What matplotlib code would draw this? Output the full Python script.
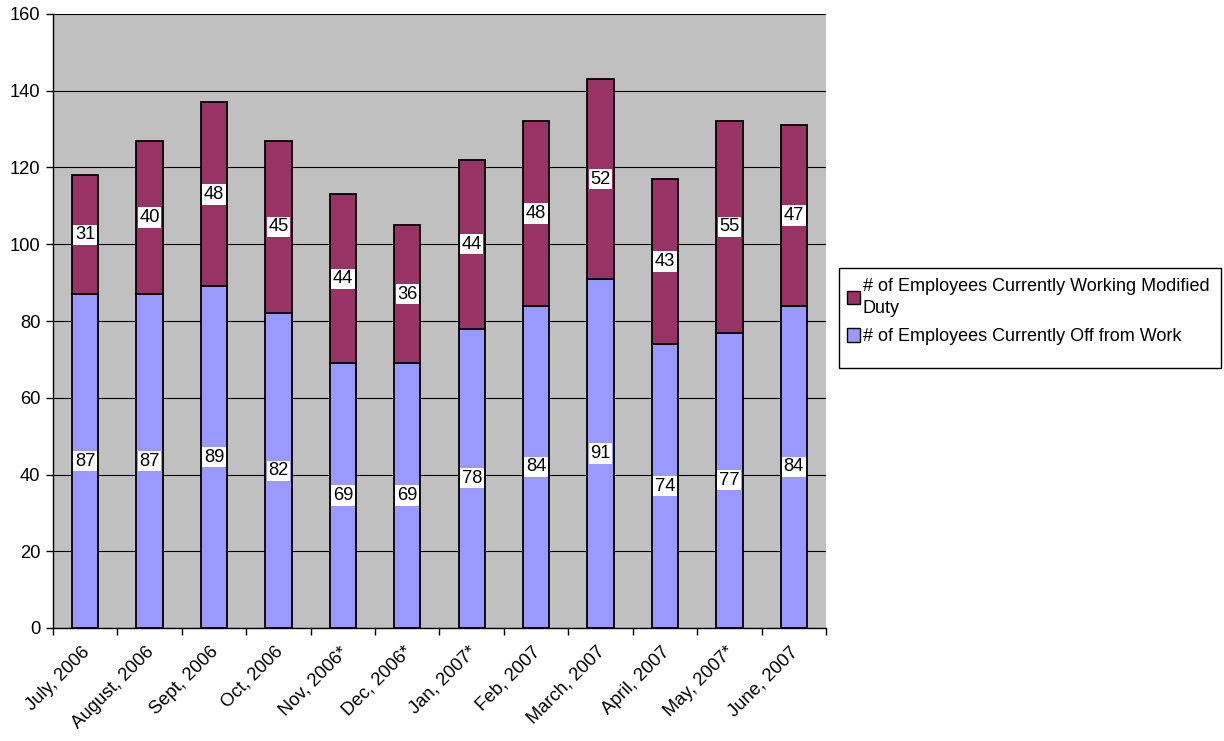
import matplotlib
matplotlib.use("Agg")
import matplotlib.pyplot as plt
import numpy as np
from matplotlib.patches import Patch, Rectangle
from matplotlib.transforms import ScaledTranslation

months = ["July, 2006", "August, 2006", "Sept, 2006", "Oct, 2006", "Nov, 2006*",
          "Dec, 2006*", "Jan, 2007*", "Feb, 2007", "March, 2007", "April, 2007",
          "May, 2007*", "June, 2007"]
off_work = [87, 87, 89, 82, 69, 69, 78, 84, 91, 74, 77, 84]
modified_duty = [31, 40, 48, 45, 44, 36, 44, 48, 52, 43, 55, 47]

plt.rcParams["font.family"] = ["Liberation Sans", "DejaVu Sans"]
FS = 13.2

fig = plt.figure(figsize=(12.24, 7.41), dpi=100)
ax = fig.add_axes([53 / 1224, 1 - 628 / 741, (826 - 53) / 1224, (628 - 14) / 741])
ax.set_facecolor("#C0C0C0")

x = np.arange(len(months))
w = 0.41
blue = "#9999FF"
purple = "#993366"

ax.set_axisbelow(True)
ax.yaxis.grid(True, color="black", linewidth=0.8)

ax.bar(x, off_work, w, color=blue, edgecolor="black", linewidth=1.3, zorder=2)
ax.bar(x, modified_duty, w, bottom=off_work, color=purple, edgecolor="black",
       linewidth=1.3, zorder=2)

box = dict(facecolor="white", edgecolor="none", pad=1.2)
for xi, o, m in zip(x, off_work, modified_duty):
    ax.text(xi, o / 2, str(o), ha="center", va="center", fontsize=FS, bbox=box, zorder=3)
    ax.text(xi, o + m / 2, str(m), ha="center", va="center", fontsize=FS, bbox=box, zorder=3)

ax.set_xlim(-0.5, len(months) - 0.5)
ax.set_ylim(0, 160)
ax.set_yticks(np.arange(0, 161, 20))
ax.tick_params(axis="y", labelsize=FS, direction="out", length=5, width=1, pad=4)

ax.set_xticks(x)
ax.set_xticklabels(months, rotation=45, ha="right", rotation_mode="anchor", fontsize=FS)
ax.tick_params(axis="x", which="major", length=0, pad=11)
shift = ScaledTranslation(-0.04, 0, fig.dpi_scale_trans)
for lbl in ax.get_xticklabels():
    lbl.set_transform(lbl.get_transform() + shift)
ax.set_xticks(np.arange(-0.5, len(months), 1), minor=True)
ax.tick_params(axis="x", which="minor", length=5, width=1, direction="out")

for side in ["top", "right"]:
    ax.spines[side].set_visible(False)
ax.spines["left"].set_linewidth(1)
ax.spines["bottom"].set_linewidth(1)

# legend frame drawn separately so it keeps its fixed size
fig.patches.append(Rectangle((839 / 1224, 1 - 368 / 741), (1221 - 839) / 1224, 100 / 741,
                             transform=fig.transFigure, facecolor="white",
                             edgecolor="black", linewidth=1, zorder=1))
handles = [Patch(facecolor=purple, edgecolor="black"),
           Patch(facecolor=blue, edgecolor="black")]
labels = ["# of Employees Currently Working Modified\nDuty",
          "# of Employees Currently Off from Work"]
leg = fig.legend(handles, labels, loc="upper left",
                 bbox_to_anchor=(843 / 1224, 1 - 274 / 741), fontsize=13,
                 frameon=False, handlelength=0.75, handleheight=0.75,
                 handletextpad=0.15, borderpad=0.2, labelspacing=0.6,
                 borderaxespad=0)
for t in leg.get_texts():
    t.set_linespacing(1.45)
leg.set_zorder(2)

fig.savefig("out.png", dpi=100, facecolor="white")
